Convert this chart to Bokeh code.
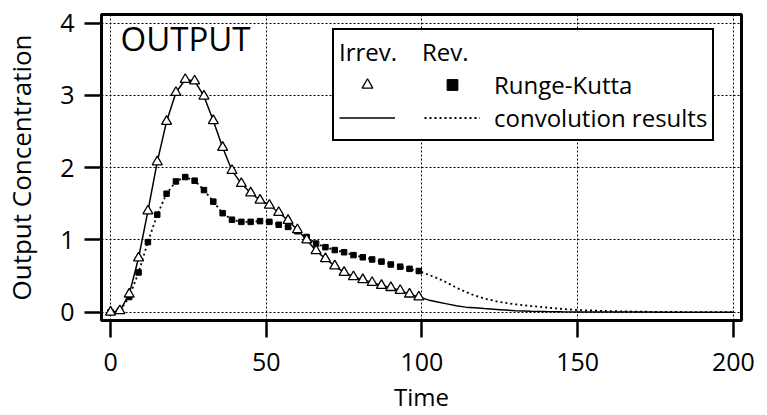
from bokeh.plotting import figure
from bokeh.models import (Range1d, Legend, LegendItem, Label, FixedTicker)
from bokeh.embed import file_html
from bokeh.resources import INLINE

# ---------------- data ----------------
rk_time = [0, 3, 6, 9, 12, 15, 18, 21, 24, 27, 30, 33, 36, 39, 42, 45, 48,
           51, 54, 57, 60, 63, 66, 69, 72, 75, 78, 81, 84, 87, 90, 93, 96, 99]
irrev_rk = [0.0, 0.02, 0.25, 0.75, 1.40, 2.08, 2.64, 3.04, 3.22, 3.20, 2.99,
            2.65, 2.28, 1.96, 1.78, 1.65, 1.55, 1.48, 1.38, 1.27, 1.14, 1.00,
            0.85, 0.74, 0.64, 0.55, 0.49, 0.45, 0.41, 0.37, 0.34, 0.30, 0.25,
            0.21]
rev_rk = [0.0, 0.02, 0.21, 0.55, 0.97, 1.35, 1.64, 1.81, 1.87, 1.82, 1.69,
          1.53, 1.37, 1.28, 1.25, 1.25, 1.26, 1.25, 1.21, 1.18, 1.12, 1.04,
          0.95, 0.90, 0.86, 0.83, 0.79, 0.76, 0.73, 0.70, 0.66, 0.63, 0.60,
          0.57]

# convolution results beyond the Runge-Kutta range
tail_time = [102, 105, 108, 111, 114, 117, 120, 125, 130, 135, 140, 145, 150,
             160, 170, 180, 190, 200]
irrev_conv_tail = [0.17, 0.14, 0.115, 0.09, 0.07, 0.06, 0.05, 0.035, 0.02,
                   0.012, 0.008, 0.005, 0.004, 0.002, 0.001, 0.0, 0.0, 0.0]
rev_conv_tail = [0.52, 0.47, 0.41, 0.34, 0.28, 0.23, 0.19, 0.14, 0.11, 0.085,
                 0.065, 0.045, 0.03, 0.015, 0.007, 0.003, 0.001, 0.0]

x_ticks = [0, 50, 100, 150, 200]
y_ticks = [0, 1, 2, 3, 4]

conv_time = rk_time + tail_time
irrev_conv = irrev_rk + irrev_conv_tail
rev_conv = rev_rk + rev_conv_tail

FONT = "Open Sans"

p = figure(width=767, height=415, output_backend="svg", toolbar_location=None,
           x_range=Range1d(-2.9, 202.6), y_range=Range1d(-0.115, 4.12),
           min_border_left=101, min_border_right=26, min_border_top=14,
           min_border_bottom=95)
p.background_fill_color = "white"
p.border_fill_color = "white"
p.outline_line_color = "black"
p.outline_line_width = 3

# lines
solid_r = p.line(conv_time, irrev_conv, line_color="black", line_width=1.5)
dot_r = p.line(conv_time, rev_conv, line_color="black", line_width=1.8,
               line_dash="2 3")
# markers
sq_r = p.scatter(rk_time, rev_rk, marker="square", size=5.5,
                 fill_color="black", line_color="black")
tri_r = p.scatter(rk_time, irrev_rk, marker="triangle", size=10,
                  fill_color="white", line_color="black", line_width=1.3)

# axes
for ax in (p.xaxis[0], p.yaxis[0]):
    ax.axis_line_width = 3
    ax.axis_line_color = "black"
    ax.major_tick_out = 17
    ax.major_tick_in = 0
    ax.major_tick_line_width = 2.5
    ax.major_tick_line_color = "black"
    ax.minor_tick_out = 0
    ax.minor_tick_in = 0
    ax.major_label_text_font = FONT
    ax.major_label_text_font_size = "25px"
    ax.major_label_text_color = "black"
    ax.axis_label_text_font = FONT
    ax.axis_label_text_font_style = "normal"
    ax.axis_label_text_color = "black"

p.xaxis.ticker = FixedTicker(ticks=x_ticks)
p.yaxis.ticker = FixedTicker(ticks=y_ticks)
p.xaxis.axis_label = "Time"
p.yaxis.axis_label = "Output Concentration"
p.xaxis.axis_label_text_font_size = "24px"
p.yaxis.axis_label_text_font_size = "26px"
p.xaxis.major_label_standoff = 15
p.yaxis.major_label_standoff = 10
p.xaxis.axis_label_standoff = 6
p.yaxis.axis_label_standoff = 18

# grid
for g in (p.xgrid[0], p.ygrid[0]):
    g.grid_line_color = "black"
    g.grid_line_width = 1
    g.grid_line_dash = "2 2"
p.xgrid.ticker = FixedTicker(ticks=x_ticks)
p.ygrid.ticker = FixedTicker(ticks=y_ticks)

# title label inside plot
p.add_layout(Label(x=19, y=282, x_units="screen", y_units="screen",
                   text="OUTPUT", text_font=FONT, text_font_size="33px",
                   text_color="black", text_baseline="alphabetic"))

# legend (column-major: column 1 = Irrev., column 2 = Rev.)
legend = Legend(items=[
    LegendItem(label="", renderers=[tri_r]),
    LegendItem(label="", renderers=[solid_r]),
    LegendItem(label="Runge-Kutta", renderers=[sq_r]),
    LegendItem(label="convolution results", renderers=[dot_r]),
], ncols=2, location=(231, 179))
legend.title = "Irrev.\u00a0\u00a0\u00a0\u00a0Rev."
legend.title_text_font = FONT
legend.title_text_font_size = "24px"
legend.title_text_font_style = "normal"
legend.title_text_color = "black"
legend.title_standoff = 0
legend.label_text_font = FONT
legend.label_text_font_size = "24px"
legend.label_text_color = "black"
legend.border_line_color = "black"
legend.border_line_alpha = 1
legend.border_line_width = 2.5
legend.background_fill_color = "white"
legend.background_fill_alpha = 1
legend.padding = 5
legend.margin = 0
legend.spacing = 0
legend.glyph_width = 56
legend.glyph_height = 27
legend.label_height = 27
legend.label_width = 15
legend.label_standoff = 14
p.add_layout(legend)

open("out.html", "w").write(file_html(p, INLINE))
